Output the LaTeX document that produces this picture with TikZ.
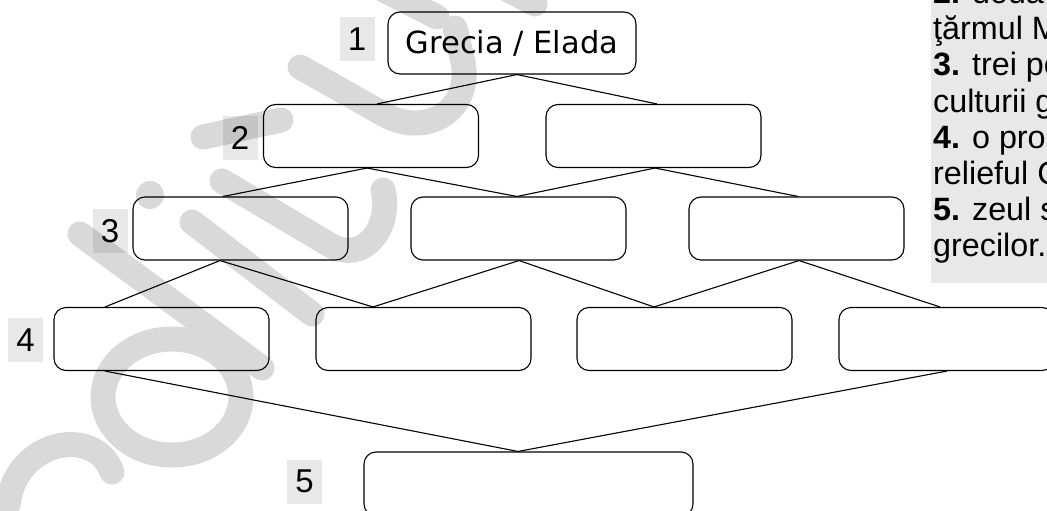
\documentclass[tikz,border=0pt]{standalone}
\usepackage{fontspec}
\setmainfont{Liberation Sans}
\newfontfamily\grecfont{DejaVu Sans}
\definecolor{wm}{HTML}{D9D9D9}
\definecolor{lab}{HTML}{E8E8E8}
\begin{document}
\begin{tikzpicture}[x=1pt,y=-1pt,
  box/.style={draw=black, line width=1.1pt, rounded corners=12pt, minimum width=215pt, minimum height=63pt, inner sep=0pt},
  lbl/.style={fill=black, fill opacity=0.09, text opacity=1, minimum width=35pt, minimum height=44pt, inner sep=0pt, font=\fontsize{33}{38}\selectfont},
  wmark/.style={draw=wm, line width=25pt, line cap=round, line join=round},
  link/.style={draw=black, line width=1.1pt},
  ptxt/.style={anchor=base west, inner sep=0pt, font=\fontsize{32.3}{36}\selectfont}
]
\useasboundingbox (0,0) rectangle (1047,511);
\clip (0,0) rectangle (1047,511);
\fill[white] (0,0) rectangle (1047,511);

% watermark
\draw[wmark] (300,67) -- (385,115) .. controls (425,137) and (472,112) .. (463,62) -- (455,28);
\draw[wmark] (380,-12) -- (437,17);
\draw[wmark] (505,-12) -- (535,4);
\draw[wmark] (203,137) -- (281,120);
\draw[wmark] (222,181) -- (330,245) .. controls (365,265) and (392,225) .. (383,190);
\draw[wmark] (192,222) -- (312,314);
\fill[wm] (150,195) circle (14);
\draw[wmark] (80,234) -- (262,368);
\draw[wm, line width=25pt] (172,397) ellipse [x radius=69, y radius=58];
\draw[wmark] (8,505) .. controls (15,440) and (95,425) .. (112,472);

% right panel
\fill[lab] (931,-1) rectangle (1048,283);
\node[ptxt] (p1) at (933,4) {\textbf{2.} două};
\node[ptxt] (p2) at (933,40) {ţărmul M};
\node[ptxt] (p3) at (933,76) {\textbf{3.} trei pe};
\node[ptxt] (p4) at (933,112) {culturii g};
\node[ptxt] (p5) at (933,148) {\textbf{4.} o prop};
\node[ptxt] (p6) at (933,184) {relieful C};
\node[ptxt] (p7) at (933,220) {\textbf{5.} zeul s};
\node[ptxt] (p8) at (933,256) {grecilor.};

% labels
\node[lbl] (l1) at (357,39.5) {1};
\node[lbl] (l2) at (240,138) {2};
\node[lbl] (l3) at (110,231) {3};
\node[lbl] (l4) at (25.5,340) {4};
\node[lbl] (l5) at (304.5,481.5) {5};

% boxes
\node[box, minimum width=248pt, minimum height=62pt, font=\grecfont\fontsize{30.5}{34}\selectfont] (r1) at (512,43) {Grecia / Elada};
\node[box] (r2a) at (371,136) {};
\node[box] (r2b) at (653.5,136) {};
\node[box] (r3a) at (240.5,228.5) {};
\node[box] (r3b) at (518.5,228.5) {};
\node[box] (r3c) at (796.5,228.5) {};
\node[box] (r4a) at (161.5,339) {};
\node[box] (r4b) at (423.5,339) {};
\node[box] (r4c) at (684.5,339) {};
\node[box] (r4d) at (946.5,339) {};
\node[box, minimum width=329pt, minimum height=64pt] (r5) at (528.5,484) {};

% connectors
\draw[link] ([xshift=5pt]r1.south) -- ([xshift=6pt]r2a.north);
\draw[link] ([xshift=5pt]r1.south) -- ([xshift=3.5pt]r2b.north);
\draw[link] ([xshift=-4pt]r2a.south) -- ([xshift=-17.5pt]r3a.north);
\draw[link] ([xshift=-4pt]r2a.south) -- ([xshift=-1.5pt]r3b.north);
\draw[link] ([xshift=1.5pt]r2b.south) -- ([xshift=-1.5pt]r3b.north);
\draw[link] ([xshift=1.5pt]r2b.south) -- ([xshift=1.5pt]r3c.north);
\draw[link] ([xshift=-20.5pt]r3a.south) -- ([xshift=-56.5pt]r4a.north);
\draw[link] ([xshift=-20.5pt]r3a.south) -- ([xshift=-50.5pt]r4b.north);
\draw[link] ([xshift=0.5pt]r3b.south) -- ([xshift=-50.5pt]r4b.north);
\draw[link] ([xshift=0.5pt]r3b.south) -- ([xshift=-30.5pt]r4c.north);
\draw[link] ([xshift=2.5pt]r3c.south) -- ([xshift=-30.5pt]r4c.north);
\draw[link] ([xshift=2.5pt]r3c.south) -- ([xshift=-6.5pt]r4d.north);
\draw[link] ([xshift=-56.5pt]r4a.south) -- ([xshift=-10.5pt]r5.north);
\draw[link] ([xshift=0.5pt]r4d.south) -- ([xshift=-10.5pt]r5.north);
\end{tikzpicture}
\end{document}
